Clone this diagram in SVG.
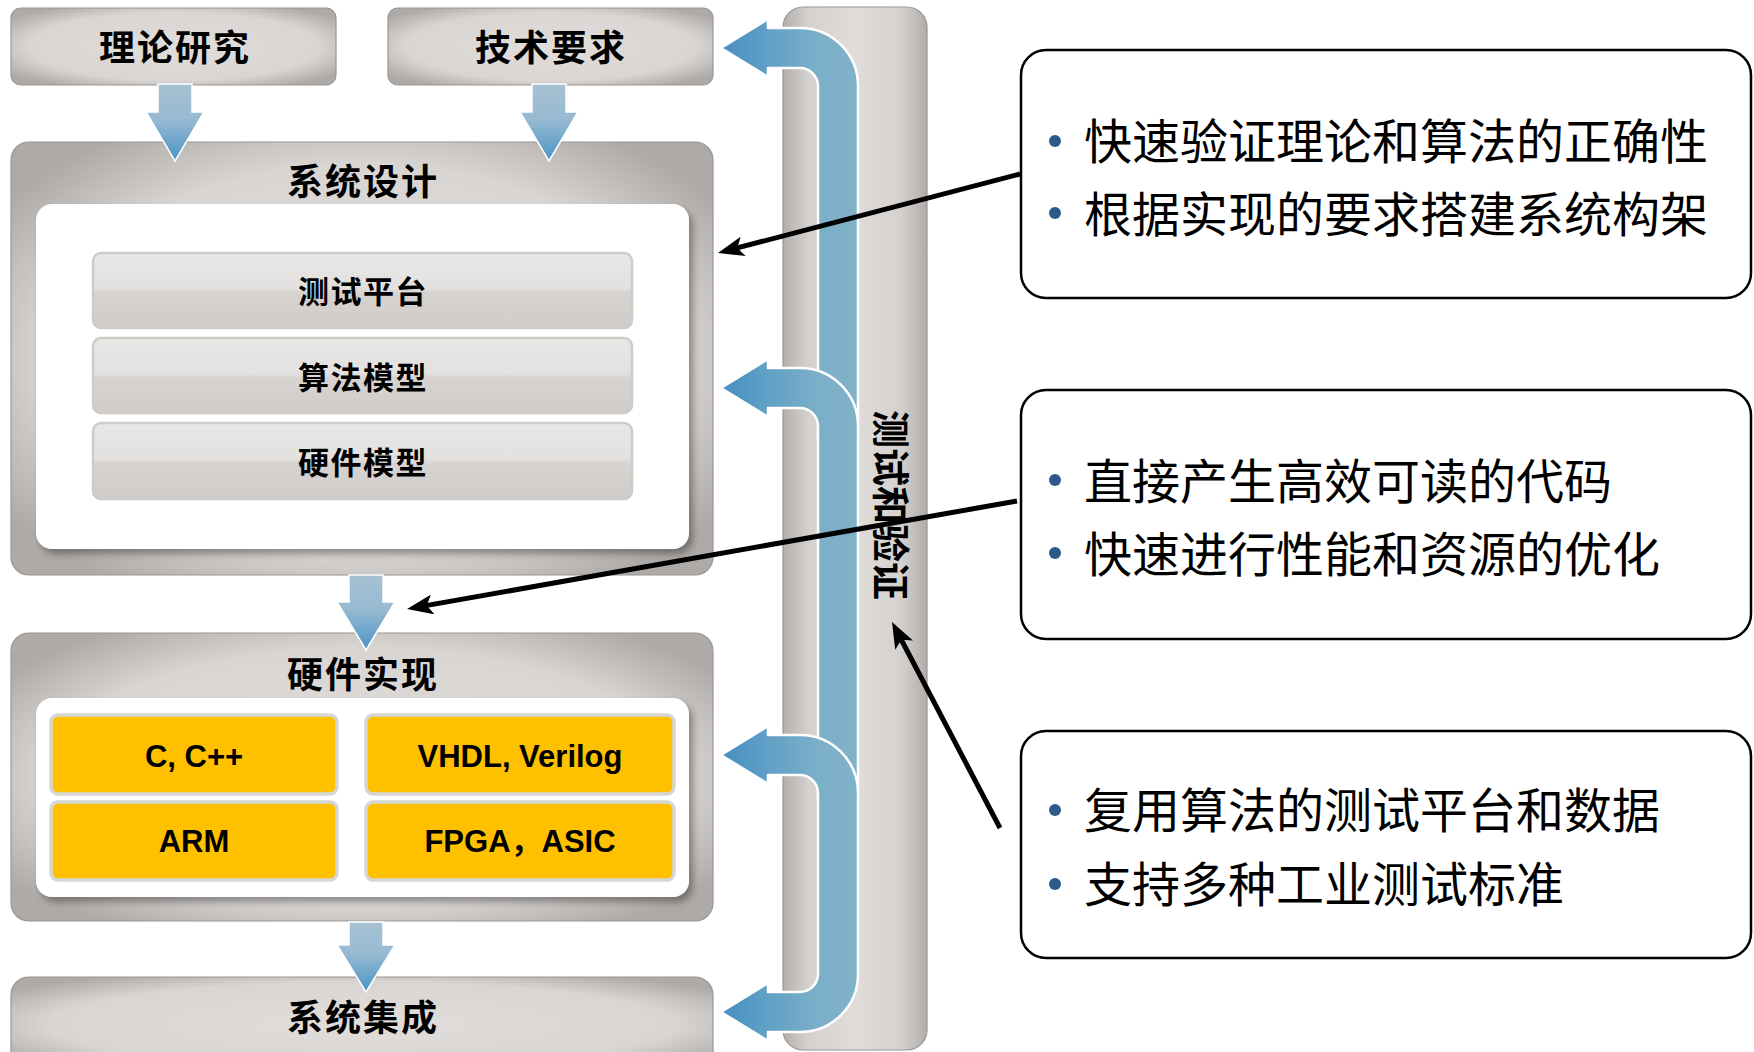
<svg xmlns="http://www.w3.org/2000/svg" width="1754" height="1052" viewBox="0 0 1754 1052">
<defs>
  <radialGradient id="gBox" cx="0.5" cy="0.5" r="0.62">
    <stop offset="0" stop-color="#e0dddb"/>
    <stop offset="0.72" stop-color="#d8d5d3"/>
    <stop offset="1" stop-color="#aeaaa7"/>
  </radialGradient>
  <linearGradient id="gBar" x1="0" y1="0" x2="1" y2="0">
    <stop offset="0" stop-color="#b3afac"/>
    <stop offset="0.18" stop-color="#d4d1cf"/>
    <stop offset="0.5" stop-color="#dfdcda"/>
    <stop offset="0.82" stop-color="#d4d1cf"/>
    <stop offset="1" stop-color="#b0acaa"/>
  </linearGradient>
  <linearGradient id="gItem" x1="0" y1="0" x2="0" y2="1">
    <stop offset="0" stop-color="#e9e8e6"/>
    <stop offset="0.47" stop-color="#e3e1df"/>
    <stop offset="0.53" stop-color="#d7d3d0"/>
    <stop offset="1" stop-color="#d0ccc9"/>
  </linearGradient>
  <linearGradient id="gDown" x1="0" y1="0" x2="0" y2="1">
    <stop offset="0" stop-color="#a6c1d3"/>
    <stop offset="0.45" stop-color="#98bad2"/>
    <stop offset="1" stop-color="#4a93c5"/>
  </linearGradient>
  <linearGradient id="gLoop" gradientUnits="userSpaceOnUse" x1="721" y1="0" x2="858" y2="0">
    <stop offset="0" stop-color="#4690c2"/>
    <stop offset="0.35" stop-color="#62a0c6"/>
    <stop offset="0.7" stop-color="#7bafc8"/>
    <stop offset="1" stop-color="#80b2c9"/>
  </linearGradient>
  <filter id="shadow" x="-5%" y="-5%" width="115%" height="120%">
    <feDropShadow dx="4" dy="5" stdDeviation="3.5" flood-color="#000" flood-opacity="0.35"/>
  </filter>
  <marker id="ah" markerUnits="userSpaceOnUse" markerWidth="26" markerHeight="20" viewBox="0 0 26 20" refX="17" refY="10" orient="auto">
    <path d="M0,0 L26,10 L0,20 L6,10 Z" fill="#000"/>
  </marker>
  <style>
    .box { fill: url(#gBox); stroke: #9a9694; stroke-width: 1.2; }
    .inner { fill: #ffffff; filter: url(#shadow); }
    .item { fill: url(#gItem); stroke: #cfcbc8; stroke-width: 2.5; }
    .yel { fill: #ffc000; stroke: #d6d6d6; stroke-width: 3.5; }
    .down { fill: url(#gDown); stroke: #ffffff; stroke-width: 1.5; }
    .loop { fill: url(#gLoop); stroke: #ffffff; stroke-width: 2.5; stroke-linejoin: round; }
    .call { fill: #ffffff; stroke: #000000; stroke-width: 2.5; }
    .title { font-family: "Noto Sans CJK SC", sans-serif; font-weight: 700; font-size: 36px; letter-spacing: 2px; fill: #000; text-anchor: middle; }
    .itxt { font-family: "Noto Sans CJK SC", sans-serif; font-weight: 700; font-size: 31px; letter-spacing: 1.5px; fill: #000; text-anchor: middle; }
    .ltxt { font-family: "Liberation Sans", Arial, "Noto Sans CJK SC", sans-serif; font-weight: 700; font-size: 31px; fill: #000; text-anchor: middle; }
    .ctxt { font-family: "Noto Sans CJK SC", sans-serif; font-weight: 400; font-size: 48px; fill: #000; }
    .vtxt { font-family: "Noto Sans CJK SC", sans-serif; font-weight: 700; font-size: 38px; fill: #000; text-anchor: middle; }
    .dot { fill: #2c5b8a; }
    .conn { stroke: #000; stroke-width: 5; fill: none; marker-end: url(#ah); }
  </style>
</defs>
<rect width="1754" height="1052" fill="#ffffff"/>

<g id="node-verify">
  <rect x="783" y="7" width="144" height="1043" rx="20" fill="url(#gBar)" stroke="#9a9694" stroke-width="1.2"/>
  <text class="vtxt" transform="translate(891,505) rotate(90)" x="0" y="14">测试和验证</text>
</g>

<g id="node-theory">
  <rect class="box" x="11" y="8" width="325" height="77" rx="10"/>
  <text class="title" x="175" y="61">理论研究</text>
</g>
<g id="node-req">
  <rect class="box" x="388" y="8" width="325" height="77" rx="10"/>
  <text class="title" x="551" y="61">技术要求</text>
</g>

<g id="node-sysdesign">
  <rect class="box" x="11" y="142" width="702" height="433" rx="18"/>
  <text class="title" x="363" y="195">系统设计</text>
  <rect class="inner" x="36" y="204" width="653" height="345" rx="16"/>
  <g id="node-testbench">
    <rect class="item" x="93" y="253" width="539" height="75" rx="8"/>
    <text class="itxt" x="363" y="303">测试平台</text>
  </g>
  <g id="node-algmodel">
    <rect class="item" x="93" y="338" width="539" height="75" rx="8"/>
    <text class="itxt" x="363" y="389">算法模型</text>
  </g>
  <g id="node-hwmodel">
    <rect class="item" x="93" y="423" width="539" height="76" rx="8"/>
    <text class="itxt" x="363" y="474">硬件模型</text>
  </g>
</g>

<g id="node-hwimpl">
  <rect class="box" x="11" y="633" width="702" height="288" rx="18"/>
  <text class="title" x="363" y="688">硬件实现</text>
  <rect class="inner" x="36" y="698" width="653" height="199" rx="16"/>
  <g id="node-c">
    <rect class="yel" x="51" y="715" width="286" height="79" rx="7"/>
    <text class="ltxt" x="194" y="767">C, C++</text>
  </g>
  <g id="node-vhdl">
    <rect class="yel" x="366" y="715" width="308" height="79" rx="7"/>
    <text class="ltxt" x="520" y="767">VHDL, Verilog</text>
  </g>
  <g id="node-arm">
    <rect class="yel" x="51" y="802" width="286" height="78" rx="7"/>
    <text class="ltxt" x="194" y="852">ARM</text>
  </g>
  <g id="node-fpga">
    <rect class="yel" x="366" y="802" width="308" height="78" rx="7"/>
    <text class="ltxt" x="520" y="852">FPGA，ASIC</text>
  </g>
</g>

<g id="node-sysint">
  <rect class="box" x="11" y="977" width="702" height="95" rx="18"/>
  <text class="title" x="363" y="1031">系统集成</text>
</g>

<g id="node-note1">
  <rect class="call" x="1021" y="50" width="730" height="248" rx="25"/>
  <circle class="dot" cx="1055" cy="141" r="6"/>
  <text class="ctxt" x="1084" y="159">快速验证理论和算法的正确性</text>
  <circle class="dot" cx="1055" cy="213" r="6"/>
  <text class="ctxt" x="1084" y="232">根据实现的要求搭建系统构架</text>
</g>
<g id="node-note2">
  <rect class="call" x="1021" y="390" width="730" height="249" rx="25"/>
  <circle class="dot" cx="1055" cy="480" r="6"/>
  <text class="ctxt" x="1084" y="499">直接产生高效可读的代码</text>
  <circle class="dot" cx="1055" cy="553" r="6"/>
  <text class="ctxt" x="1084" y="572">快速进行性能和资源的优化</text>
</g>
<g id="node-note3">
  <rect class="call" x="1021" y="731" width="730" height="227" rx="25"/>
  <circle class="dot" cx="1055" cy="810" r="6"/>
  <text class="ctxt" x="1084" y="828">复用算法的测试平台和数据</text>
  <circle class="dot" cx="1055" cy="884" r="6"/>
  <text class="ctxt" x="1084" y="902">支持多种工业测试标准</text>
</g>

<g id="connectors">
  <path class="down" d="M158,84 L192,84 L192,112 L204,112 L175,161 L146,112 L158,112 Z"/>
  <path class="down" d="M532,84 L566,84 L566,112 L578,112 L549,161 L520,112 L532,112 Z"/>
  <path class="down" d="M349,575 L383,575 L383,602 L395,602 L366,650 L337,602 L349,602 Z"/>
  <path class="down" d="M349,922 L383,922 L383,945 L395,945 L366,992 L337,945 L349,945 Z"/>

  <path class="loop" d="M721,48 L768,19 L768,28 L800,28 A58,58 0 0 1 858,86 L858,440 L818,440 L818,86 A18,18 0 0 0 800,68 L768,68 L768,77 Z"/>
  <path class="loop" d="M721,388 L768,359 L768,368 L800,368 A58,58 0 0 1 858,426 L858,800 L818,800 L818,426 A18,18 0 0 0 800,408 L768,408 L768,417 Z"/>
  <path class="loop" d="M721,755 L768,726 L768,735 L800,735 A58,58 0 0 1 858,793 L858,974 A58,58 0 0 1 800,1032 L768,1032 L768,1041 L721,1012 L768,983 L768,992 L800,992 A18,18 0 0 0 818,974 L818,793 A18,18 0 0 0 800,775 L768,775 L768,784 Z"/>

  <line class="conn" x1="1020" y1="174" x2="726.7" y2="250.7"/>
  <line class="conn" x1="1017" y1="501" x2="415.9" y2="607.4"/>
  <line class="conn" x1="1000" y1="828" x2="896.2" y2="630"/>
</g>
</svg>
